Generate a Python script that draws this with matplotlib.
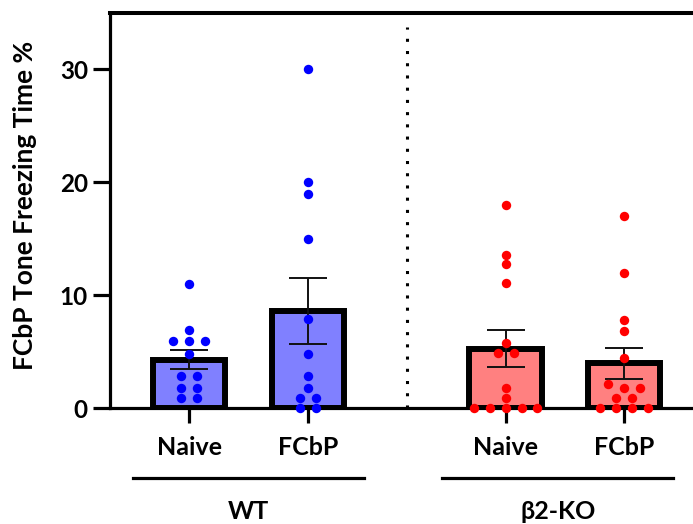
import numpy as np
import matplotlib
matplotlib.use("Agg")
import matplotlib.pyplot as plt
import matplotlib.transforms as mtransforms

plt.rcParams['font.family'] = ['Lato', 'DejaVu Sans']
plt.rcParams['font.weight'] = 'bold'

# freezing time (%) per animal
wt_naive = [11.0, 6.9, 5.9, 5.9, 5.9, 4.8, 2.8, 2.8, 1.8, 1.8, 0.9, 0.9]
wt_fcbp = [30.0, 20.0, 19.0, 15.0, 7.9, 4.8, 2.8, 1.8, 0.9, 0.9, 0.0, 0.0]
ko_naive = [18.0, 13.6, 12.8, 11.1, 5.8, 4.9, 4.9, 1.8, 0.9, 0.0, 0.0, 0.0, 0.0, 0.0]
ko_fcbp = [17.0, 12.0, 7.8, 6.8, 4.4, 2.1, 1.8, 1.8, 0.9, 0.9, 0.0, 0.0, 0.0, 0.0]

groups = [wt_naive, wt_fcbp, ko_naive, ko_fcbp]
tick_labels = ['Naive', 'FCbP', 'Naive', 'FCbP']
genotypes = ['WT', 'β2-KO']

positions = [0.0, 1.0, 2.66, 3.655]
fill_colors = ['#8080ff', '#8080ff', '#ff8080', '#ff8080']
dot_colors = ['#0000ff', '#0000ff', '#ff0000', '#ff0000']


def swarm_offsets(vals, step=0.134, tol=0.5):
    # spread points with (nearly) equal values side by side
    vals = np.asarray(vals)
    order = np.argsort(-vals)
    offs = np.zeros(len(vals))
    clusters = []
    for i in order:
        if clusters and abs(vals[clusters[-1][0]] - vals[i]) < tol:
            clusters[-1].append(i)
        else:
            clusters.append([i])
    for c in clusters:
        n = len(c)
        for k, i in enumerate(c):
            offs[i] = (k - (n - 1) / 2) * step
    return offs


fig = plt.figure(figsize=(6.93, 5.24), dpi=100)
ax = fig.add_axes([110 / 693, 116 / 524, 583 / 693, 395 / 524])

means = [np.mean(g) for g in groups]
sems = [np.std(g, ddof=1) / np.sqrt(len(g)) for g in groups]

ax.bar(positions, means, width=0.61, color=fill_colors, edgecolor='black',
       linewidth=4.3, zorder=2)
ax.errorbar(positions, means, yerr=sems, fmt='none', ecolor='#111111',
            elinewidth=1.4, capsize=14, capthick=1.4, zorder=3)

for x, g, c in zip(positions, groups, dot_colors):
    ax.scatter(x + swarm_offsets(g), g, s=46, color=c, zorder=5,
               linewidths=0, clip_on=False)

ax.plot([1.83, 1.83], [0, 33.8], color='black', linewidth=2.2,
        linestyle=(0, (1, 3)), zorder=1)

ax.set_xlim(-0.664, 4.235)
ax.set_ylim(0, 35)
ax.set_yticks([0, 10, 20, 30])
ax.set_xticks(positions)
ax.set_xticklabels(tick_labels, fontsize=18, fontweight='bold')
for lab in ax.get_yticklabels():
    lab.set_fontsize(17.5)
    lab.set_fontweight('bold')

ax.spines['right'].set_visible(False)
ax.spines['left'].set_linewidth(2.3)
ax.spines['bottom'].set_linewidth(2.3)
ax.spines['top'].set_linewidth(2.9)
ax.tick_params(axis='y', length=12, width=2.3, pad=4)
ax.tick_params(axis='x', length=11, width=2.3, pad=9)

ax.set_ylabel('FCbP Tone Freezing Time %', fontsize=19, fontweight='bold')
ax.yaxis.set_label_coords(-0.125, 0.514)

trans = mtransforms.blended_transform_factory(ax.transData, ax.transAxes)
ax.plot([-0.47, 1.47], [-0.177, -0.177], color='black', linewidth=2.3,
        transform=trans, clip_on=False)
ax.plot([2.13, 4.07], [-0.177, -0.177], color='black', linewidth=2.3,
        transform=trans, clip_on=False)
ax.text(0.5, -0.262, genotypes[0], transform=trans, ha='center', va='center',
        fontsize=18, fontweight='bold')
ax.text(3.1, -0.262, genotypes[1], transform=trans, ha='center', va='center',
        fontsize=18, fontweight='bold')

fig.savefig('out.png', dpi=100)
